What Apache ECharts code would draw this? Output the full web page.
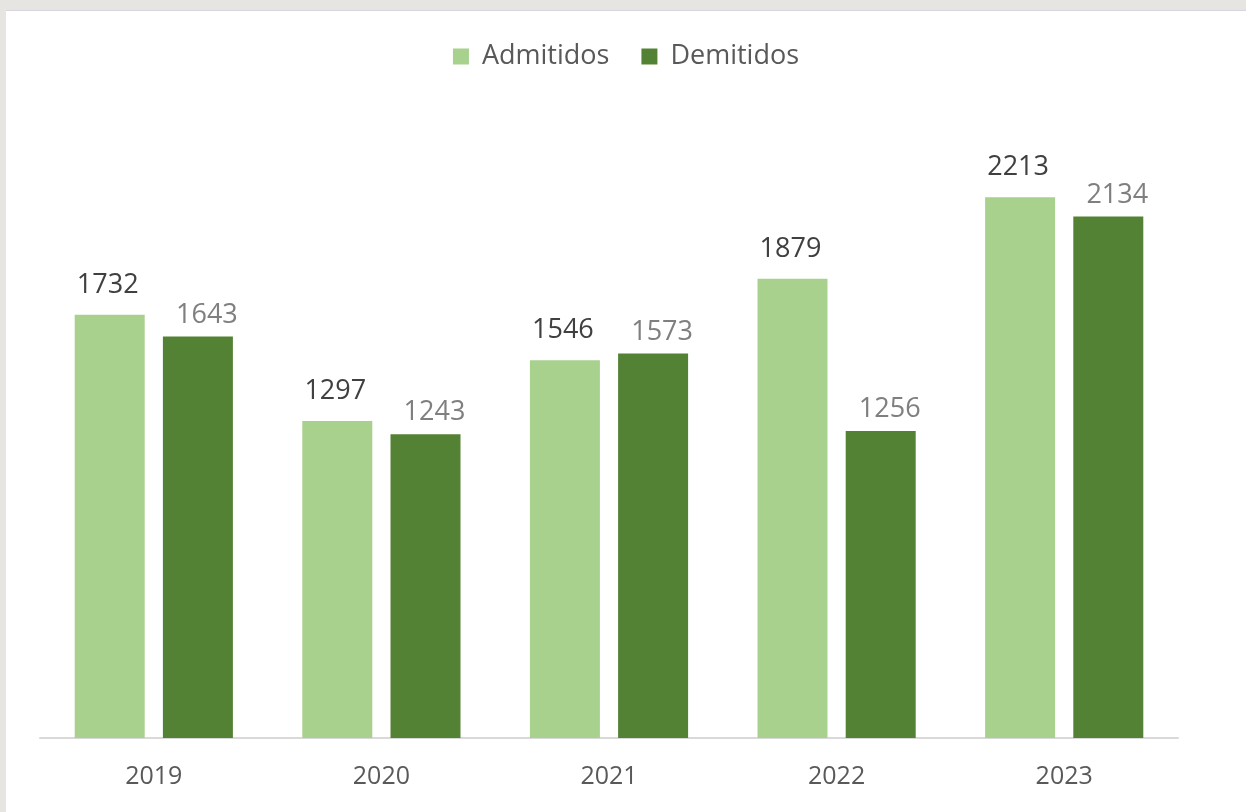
<!DOCTYPE html>
<html style="height: 100%">
<head>
    <meta charset="utf-8">
    <title>Admitidos x Demitidos</title>
</head>
<body style="height: 100%; margin: 0; background: #e7e5e1;">
<div id="container" style="position: absolute; left: 6px; top: 10px; width: 1240px; height: 802px; background: #ffffff; border-top: 1px solid #d8d6dc;"></div>

<script src="https://cdn.jsdelivr.net/npm/echarts@6/dist/echarts.min.js"></script>
<script type="text/javascript">
    // dados
    var anos = ['2019', '2020', '2021', '2022', '2023'];
    var admitidos = [1732, 1297, 1546, 1879, 2213];
    var demitidos = [1643, 1243, 1573, 1256, 2134];

    var myChart = echarts.init(document.getElementById('container'));

    var option = {
        backgroundColor: '#ffffff',
        textStyle: {
            fontFamily: 'Open Sans'
        },
        legend: {
            top: 27,
            left: 'center',
            itemWidth: 16,
            itemHeight: 16,
            itemGap: 32,
            icon: 'rect',
            textStyle: {
                color: '#595959',
                fontSize: 27,
                padding: [0, 0, 0, 8]
            },
            data: ['Admitidos', 'Demitidos']
        },
        grid: {
            left: 34,
            right: 68,
            top: 116,
            bottom: 75
        },
        xAxis: {
            type: 'category',
            data: anos,
            axisTick: { show: false },
            axisLine: {
                lineStyle: { color: '#d9d9d9', width: 2 }
            },
            axisLabel: {
                color: '#595959',
                fontSize: 25,
                margin: 26
            }
        },
        yAxis: {
            type: 'value',
            min: 0,
            max: 2500,
            show: false
        },
        series: [
            {
                name: 'Admitidos',
                type: 'bar',
                data: admitidos,
                barWidth: 70,
                barGap: '26%',
                itemStyle: { color: '#a9d18e' },
                label: {
                    show: true,
                    position: 'top',
                    distance: 16,
                    offset: [-2, 0],
                    color: '#404040',
                    fontSize: 27
                }
            },
            {
                name: 'Demitidos',
                type: 'bar',
                data: demitidos,
                barWidth: 70,
                itemStyle: { color: '#548235' },
                label: {
                    show: true,
                    position: 'top',
                    distance: 8,
                    offset: [9, 0],
                    color: '#7f7f7f',
                    fontSize: 27
                }
            }
        ]
    };
    myChart.setOption(option);
</script>
</body>
</html>
